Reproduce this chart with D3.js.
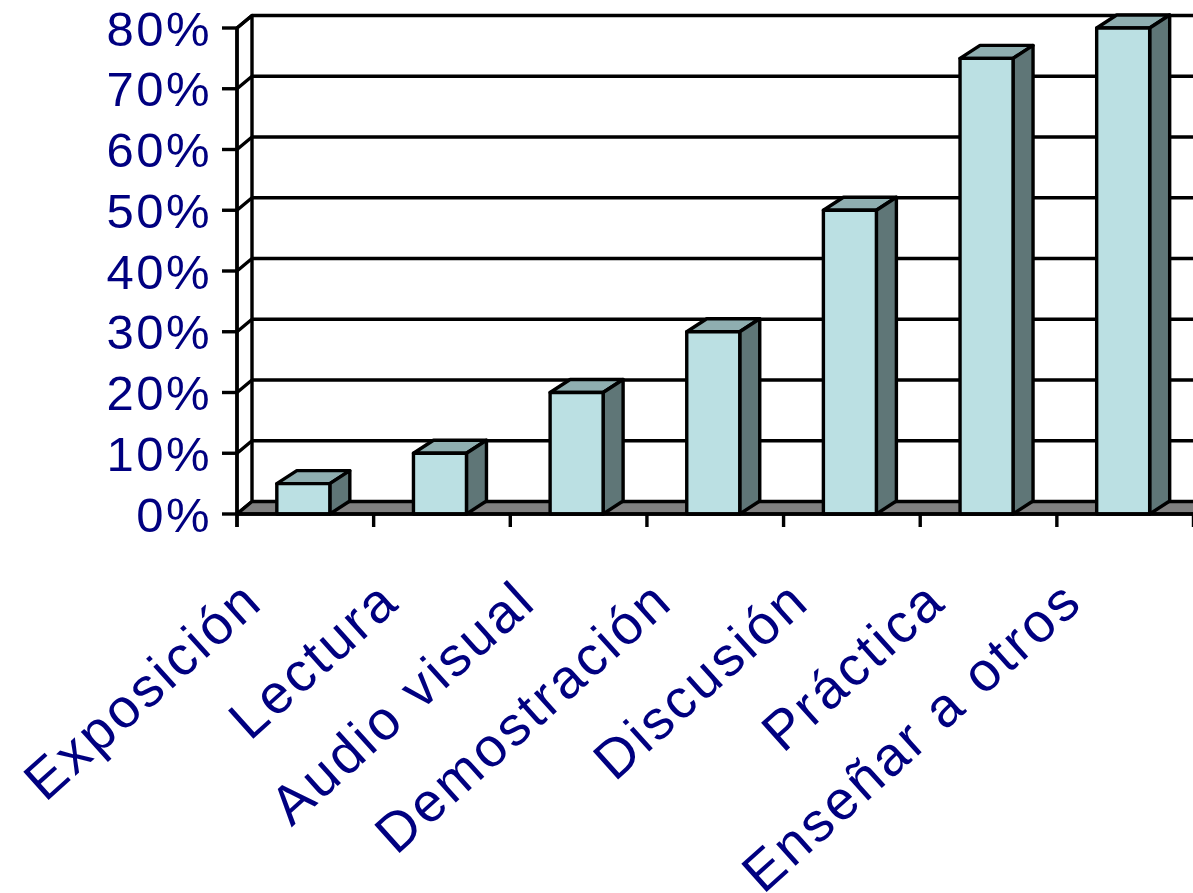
<!DOCTYPE html>
<html>
<head>
<meta charset="utf-8">
<script src="https://cdn.jsdelivr.net/npm/d3@7"></script>
<style>
    html, body { margin: 0; padding: 0; background: #fff; }
    svg { display: block; }
</style>
</head>
<body>
<svg></svg>
<script>
const categories = ['Exposición', 'Lectura', 'Audio visual', 'Demostración', 'Discusión', 'Práctica', 'Enseñar a otros'];
const values = [0.05, 0.10, 0.20, 0.30, 0.50, 0.75, 0.80];
const yTicks = [0, 0.1, 0.2, 0.3, 0.4, 0.5, 0.6, 0.7, 0.8];

const width = 1193;
const height = 893;

const svg = d3.select('svg')
    .attr('width', width)
    .attr('height', height);

const x = d3.scaleBand()
    .domain(categories)
    .range([237, 1193.5]);

const y = d3.scaleLinear()
    .domain([0, 0.8])
    .range([514, 28]);

// depth of the walls and of the columns (oblique projection)
const wall = { dx: 15, dy: -12.5 };
const col = { dx: 20, dy: -13 };
const barWidth = 53;
const right = 1220;

const navy = '#000080';
const line = { stroke: '#000', 'stroke-width': 3.4, 'stroke-linejoin': 'round' };
const applyLine = sel => Object.entries(line).forEach(([k, v]) => sel.attr(k, v));

const poly = pts => 'M' + pts.map(p => p.join(',')).join('L') + 'Z';

// side wall + gridlines
const grid = svg.append('g').attr('class', 'grid');

grid.append('path')
    .attr('d', poly([[x.range()[0], y(0)], [x.range()[0] + wall.dx, y(0) + wall.dy],
        [x.range()[0] + wall.dx, y(0.8) + wall.dy], [x.range()[0], y(0.8)]]))
    .attr('fill', '#fff')
    .call(applyLine);

grid.selectAll('.gridline')
    .data(yTicks.filter(t => t > 0))
    .enter()
    .append('path')
    .attr('class', 'gridline')
    .attr('fill', 'none')
    .attr('d', t => `M${x.range()[0]},${y(t)}L${x.range()[0] + wall.dx},${y(t) + wall.dy}H${right}`)
    .call(applyLine);

// floor
svg.append('path')
    .attr('class', 'floor')
    .attr('d', poly([[x.range()[0], y(0)], [right, y(0)], [right, y(0) + wall.dy],
        [x.range()[0] + wall.dx, y(0) + wall.dy]]))
    .attr('fill', '#808080')
    .call(applyLine);

// columns
const bar = svg.append('g')
    .attr('class', 'bars')
    .selectAll('.bar')
    .data(categories.map((c, i) => ({ c, v: values[i] })))
    .enter()
    .append('g')
    .attr('class', 'bar');

const bx0 = d => x(d.c) + x.bandwidth() / 2 - 2 - barWidth / 2;
const bx1 = d => bx0(d) + barWidth;

bar.append('path')
    .attr('fill', '#8FAEB0')
    .attr('d', d => poly([[bx0(d), y(d.v)], [bx1(d), y(d.v)],
        [bx1(d) + col.dx, y(d.v) + col.dy], [bx0(d) + col.dx, y(d.v) + col.dy]]))
    .call(applyLine);

bar.append('path')
    .attr('fill', '#5F7677')
    .attr('d', d => poly([[bx1(d), y(0)], [bx1(d) + col.dx, y(0) + col.dy],
        [bx1(d) + col.dx, y(d.v) + col.dy], [bx1(d), y(d.v)]]))
    .call(applyLine);

bar.append('rect')
    .attr('fill', '#BBE0E3')
    .attr('x', bx0)
    .attr('y', d => y(d.v))
    .attr('width', barWidth)
    .attr('height', d => y(0) - y(d.v))
    .call(applyLine);

// value axis
const yAxis = svg.append('g').attr('class', 'y-axis');

yAxis.append('line')
    .attr('x1', x.range()[0]).attr('x2', x.range()[0])
    .attr('y1', y(0.8)).attr('y2', y(0) + 13)
    .call(applyLine);

yAxis.selectAll('.tick')
    .data(yTicks)
    .enter()
    .append('line')
    .attr('class', 'tick')
    .attr('x1', x.range()[0] - 15).attr('x2', x.range()[0])
    .attr('y1', y).attr('y2', y)
    .call(applyLine);

yAxis.selectAll('.label')
    .data(yTicks)
    .enter()
    .append('text')
    .attr('class', 'label')
    .attr('x', 212)
    .attr('y', y)
    .attr('dy', '0.36em')
    .attr('text-anchor', 'end')
    .style('font-family', '"Liberation Sans", Arial, sans-serif')
    .style('font-size', '49px')
    .style('letter-spacing', '2.5px')
    .style('fill', navy)
    .text(d3.format('.0%'));

// category axis
const xAxis = svg.append('g').attr('class', 'x-axis');

xAxis.append('line')
    .attr('x1', x.range()[0]).attr('x2', right)
    .attr('y1', y(0)).attr('y2', y(0))
    .call(applyLine);

xAxis.selectAll('.tick')
    .data(d3.range(categories.length + 1))
    .enter()
    .append('line')
    .attr('class', 'tick')
    .attr('x1', i => x.range()[0] + i * x.step())
    .attr('x2', i => x.range()[0] + i * x.step())
    .attr('y1', y(0)).attr('y2', y(0) + 13)
    .call(applyLine);

xAxis.selectAll('.label')
    .data(categories)
    .enter()
    .append('text')
    .attr('class', 'label')
    .attr('transform', c => `translate(${x(c) + x.bandwidth() / 2 - 40},605) rotate(-42)`)
    .attr('text-anchor', 'end')
    .style('font-family', '"Liberation Sans", Arial, sans-serif')
    .style('font-size', '55px')
    .style('letter-spacing', '3px')
    .style('fill', navy)
    .text(c => c);
</script>
</body>
</html>
